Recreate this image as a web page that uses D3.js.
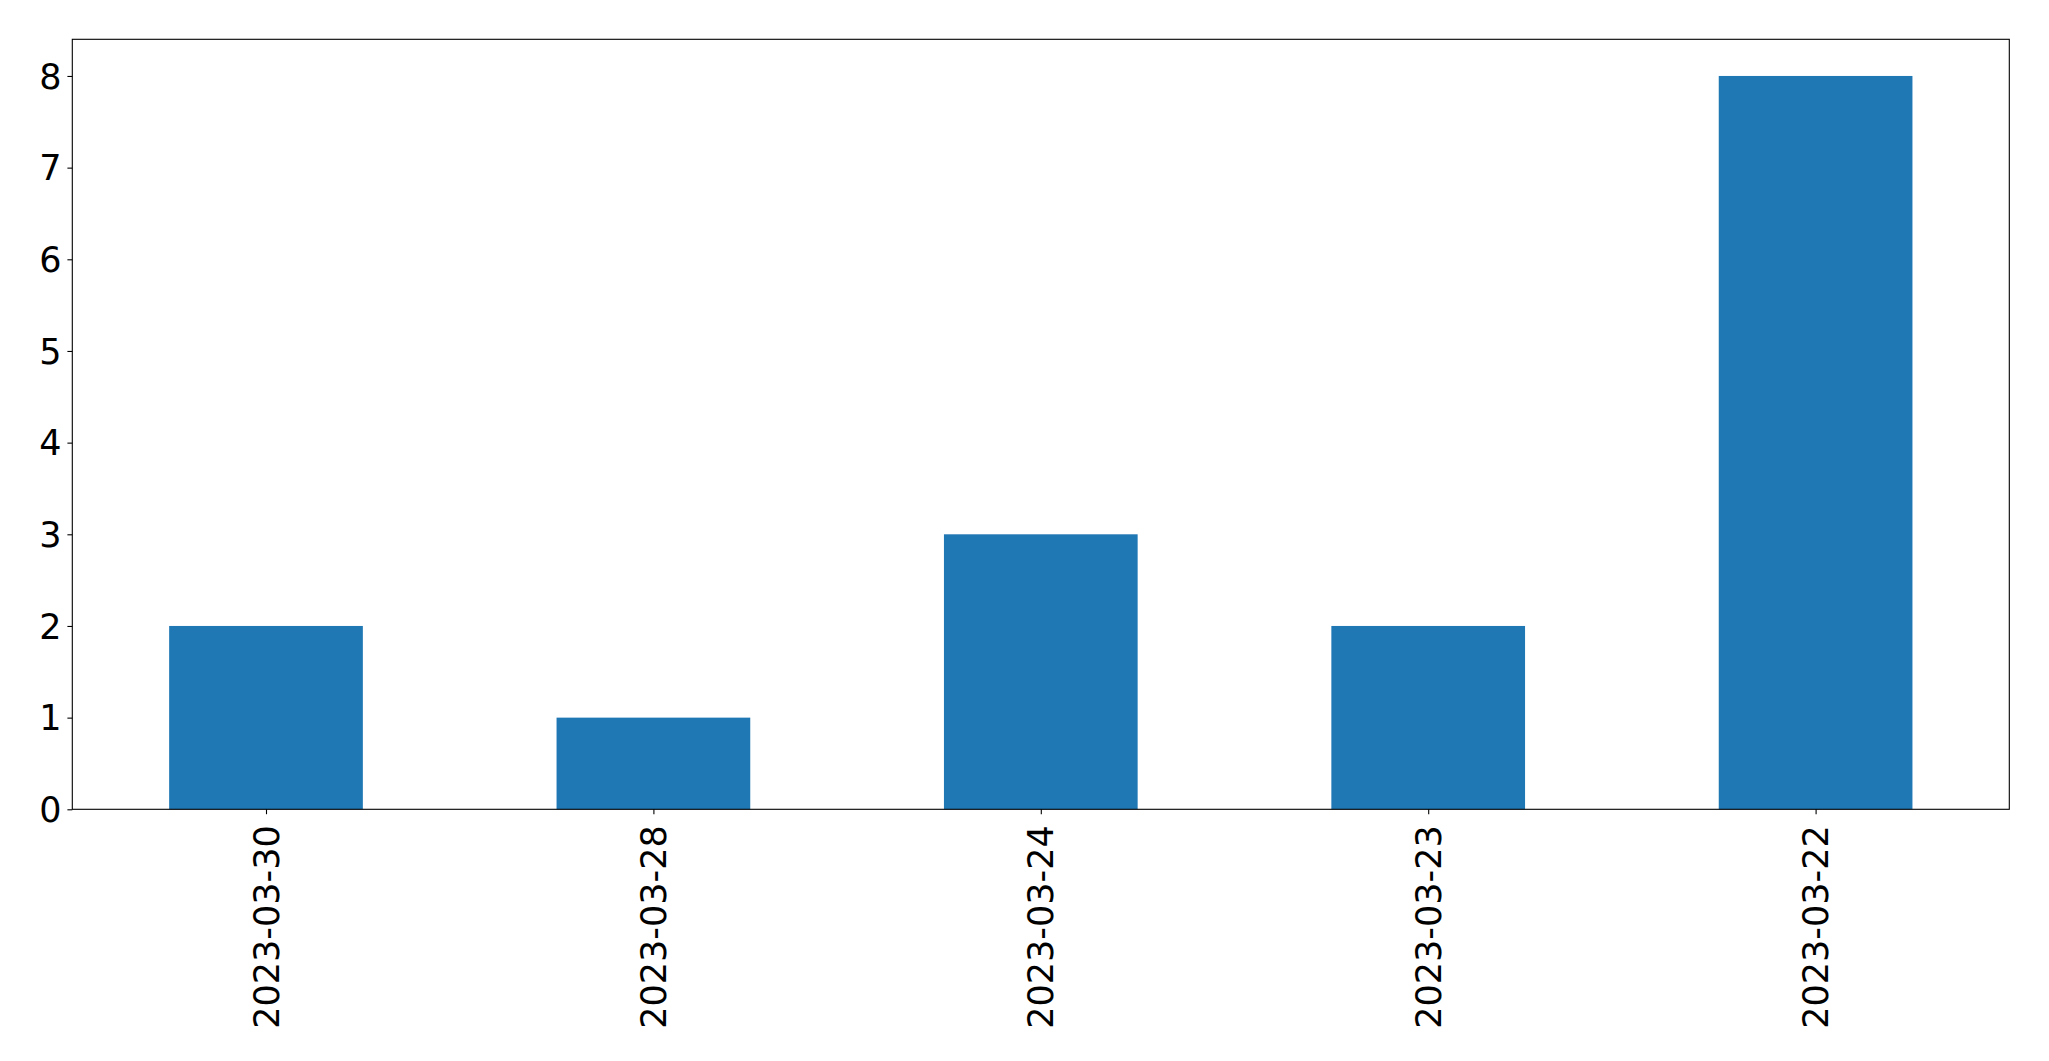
<!DOCTYPE html>
<html><head><meta charset="utf-8">
<script src="https://cdn.jsdelivr.net/npm/d3@7"></script>
<style>body{margin:0;background:#fff;}svg{display:block;}</style>
</head><body>
<script>
const categories = ["2023-03-30","2023-03-28","2023-03-24","2023-03-23","2023-03-22"];
const values = [2,1,3,2,8];
const yTicks = [0,1,2,3,4,5,6,7,8];

(function(){
const W = 2049, H = 1061;
const mLeft = 72.3, mRight = 2009.3, mTop = 39.3, mBottom = 809.3;
const svg = d3.select("body").append("svg").attr("width", W).attr("height", H);

const x = d3.scaleLinear().domain([-0.5, categories.length - 0.5]).range([mLeft, mRight]);
const y = d3.scaleLinear().domain([0, 8.4]).range([mBottom, mTop]);
const bw = x(0.25) - x(-0.25);

svg.append("g").selectAll("rect").data(values).join("rect")
  .attr("x", (d,i) => x(i) - bw/2)
  .attr("width", bw)
  .attr("y", d => y(d))
  .attr("height", d => y(0) - y(d))
  .attr("fill", "#1f77b4");

const font = "DejaVu Sans";
const fs = 35;

const yAxis = d3.axisLeft(y).tickValues(yTicks).tickFormat(d3.format("d")).tickSize(4.9).tickPadding(6);
const gy = svg.append("g").attr("transform", `translate(${mLeft},0)`).call(yAxis);
gy.select(".domain").remove();
gy.selectAll("line").attr("stroke", "#000").attr("stroke-width", 1.1);
gy.selectAll("text").attr("font-family", font).attr("font-size", fs).attr("fill", "#000").attr("dy", "0.35em");

const xAxis = d3.axisBottom(x).tickValues(categories.map((c,i) => i)).tickFormat(i => categories[i]).tickSize(4.9).tickPadding(0);
const gx = svg.append("g").attr("transform", `translate(0,${mBottom})`).call(xAxis);
gx.select(".domain").remove();
gx.selectAll("line").attr("stroke", "#000").attr("stroke-width", 1.1);
gx.selectAll("text")
  .attr("font-family", font).attr("font-size", fs).attr("fill", "#000")
  .attr("text-anchor", "end")
  .attr("dy", null)
  .attr("y", 0)
  .attr("dominant-baseline", "central")
  .attr("transform", "translate(0,16) rotate(-90)");

svg.append("rect").attr("x", mLeft).attr("y", mTop).attr("width", mRight-mLeft).attr("height", mBottom-mTop)
  .attr("fill", "none").attr("stroke", "#000").attr("stroke-width", 1.1);
})();
</script>
</body></html>
